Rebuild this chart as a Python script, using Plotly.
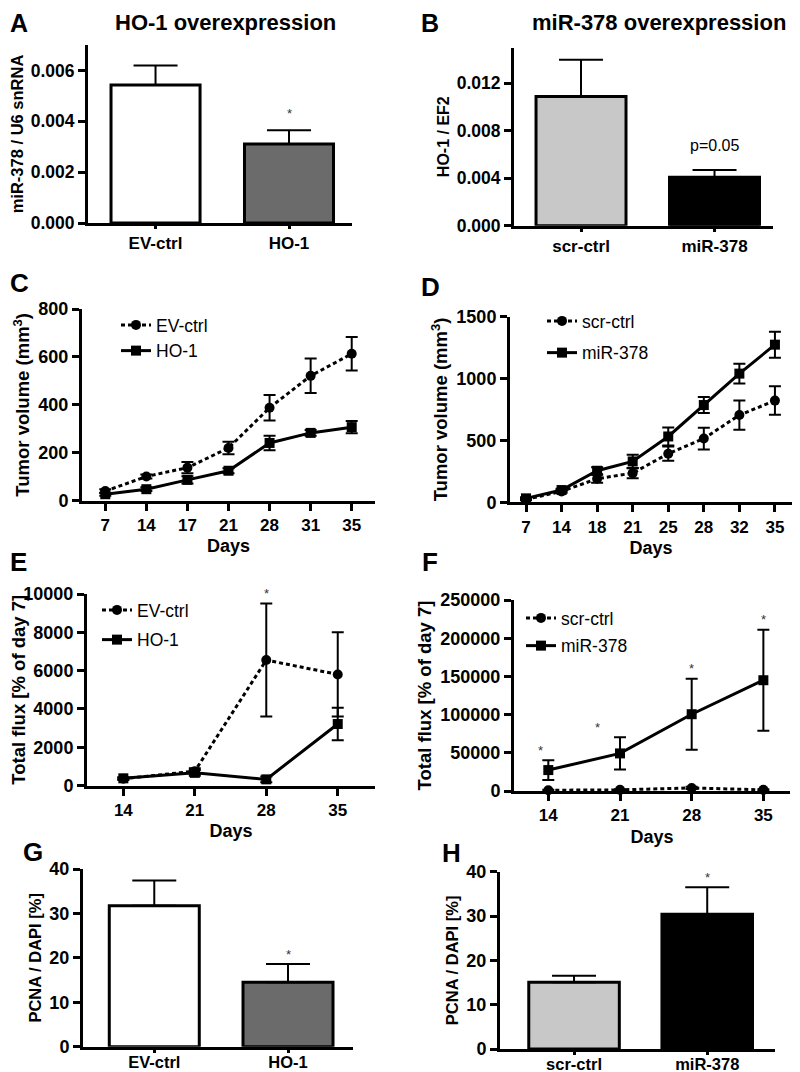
import plotly.graph_objects as go

# page is 800x1072; the browser body has an 8px margin, the figure starts at (8, 8)
# and is made 8px larger than the remaining space so it reaches the window edges.
PAGE_W, PAGE_H = 800, 1072
OFF = 8
W, H = PAGE_W - OFF, PAGE_H - OFF
FONT = "Liberation Sans, Arial, Helvetica, sans-serif"

# ---------------- data ----------------
# Panel A: HO-1 overexpression, miR-378 / U6 snRNA
a_groups = ["EV-ctrl", "HO-1"]
a_means = [0.00543, 0.00311]
a_sem = [0.00076, 0.00054]
a_stars = ["", "*"]

# Panel B: miR-378 overexpression, HO-1 / EF2
b_groups = ["scr-ctrl", "miR-378"]
b_means = [0.01089, 0.00408]
b_sem = [0.00309, 0.00062]
b_note = ["", "p=0.05"]

# Panel C: tumor volume, HO-1 overexpression
c_days = ["7", "14", "17", "21", "28", "31", "35"]
c_ev = [40, 101, 138, 220, 388, 521, 613]
c_ev_sem = [8, 8, 23, 26, 53, 72, 70]
c_ho = [27, 48, 87, 125, 241, 283, 307]
c_ho_sem = [6, 8, 15, 10, 30, 12, 26]
c_stars = ["*", "***", "**", "**", "*", "**", "***"]

# Panel D: tumor volume, miR-378 overexpression
d_days = ["7", "14", "18", "21", "25", "28", "32", "35"]
d_scr = [24, 88, 190, 236, 393, 515, 705, 822]
d_scr_sem = [8, 10, 32, 42, 58, 88, 118, 115]
d_mir = [32, 99, 255, 330, 532, 786, 1040, 1274]
d_mir_sem = [8, 10, 28, 55, 72, 65, 80, 105]
d_stars = ["", "", "", "", "", "*", "*", "*"]

# Panel E: total flux, HO-1 overexpression
e_days = [14, 21, 28, 35]
e_ev = [350, 750, 6550, 5800]
e_ev_sem = [60, 150, 2950, 2200]
e_ho = [375, 660, 320, 3210]
e_ho_sem = [50, 150, 150, 850]
e_stars = ["", "", "*", ""]

# Panel F: total flux, miR-378 overexpression
f_days = [14, 21, 28, 35]
f_scr = [1000, 1500, 4000, 1500]
f_scr_sem = [500, 800, 1500, 800]
f_mir = [27400, 49200, 100500, 145000]
f_mir_sem = [13000, 21000, 46500, 66000]
f_stars = ["*", "*", "*", "*"]

# Panel G: PCNA / DAPI, HO-1 overexpression
g_groups = ["EV-ctrl", "HO-1"]
g_means = [31.7, 14.5]
g_sem = [5.7, 4.1]
g_stars = ["", "*"]

# Panel H: PCNA / DAPI, miR-378 overexpression
h_groups = ["scr-ctrl", "miR-378"]
h_means = [15.05, 30.4]
h_sem = [1.45, 6.1]
h_stars = ["", "*"]

# ---------------- helpers (page pixel -> paper fraction) ----------------
def px(xp):
    return (xp - OFF) / W


def py(yp):
    return 1 - (yp - OFF) / H


def dx(a, b):
    return [px(a), px(b)]


def dy(top, bottom):
    return [py(bottom), py(top)]


def bold(size):
    return dict(family=FONT, size=size, color="black", weight="bold")


def axis_common():
    return dict(showgrid=False, zeroline=False, showline=True, linecolor="black",
                linewidth=3, ticks="outside", ticklen=7, tickwidth=2.5,
                tickcolor="black", mirror=False, fixedrange=True, automargin=False)


fig = go.Figure()

WHITE, DGRAY, LGRAY, BLACK = "#ffffff", "#6b6b6b", "#c8c8c8", "#000000"


def add_bars(groups, means, sem, colors, width, xa, ya):
    fig.add_trace(go.Bar(
        x=groups, y=means, width=width,
        marker=dict(color=colors, line=dict(color="black", width=3)),
        error_y=dict(type="data", array=sem, arrayminus=[0] * len(sem), symmetric=False,
                     color="black", thickness=2, width=22),
        xaxis=xa, yaxis=ya, showlegend=False, hoverinfo="skip"))


def add_line(xs, ys, sem, name, dotted, symbol, xa, ya, legend):
    fig.add_trace(go.Scatter(
        x=xs, y=ys, name=name, mode="lines+markers", legendgroup=legend + name,
        line=dict(color="black", width=3, dash="4px,3px" if dotted else "solid"),
        marker=dict(symbol=symbol, size=10, color="black"),
        error_y=dict(type="data", array=sem, color="black", thickness=2, width=6),
        xaxis=xa, yaxis=ya, legend=legend, cliponaxis=False))


def add_stars(xs, ys, sem, stars, xa, ya, shift=10, xshifts=None):
    for i, (x, y, s, t) in enumerate(zip(xs, ys, sem, stars)):
        if not t:
            continue
        fig.add_annotation(x=x, y=y + s, xref=xa, yref=ya, text=t, showarrow=False,
                           yanchor="middle", yshift=shift,
                           xshift=(xshifts[i] if xshifts else 0),
                           font=dict(family=FONT, size=13, color="#333333"))


# A
add_bars(a_groups, a_means, a_sem, [WHITE, DGRAY], 0.667, "x", "y")
add_stars(a_groups, a_means, a_sem, a_stars, "x", "y", shift=17)
# B
add_bars(b_groups, b_means, b_sem, [LGRAY, BLACK], 0.674, "x2", "y2")
for g, m, s, t in zip(b_groups, b_means, b_sem, b_note):
    if t:
        fig.add_annotation(x=g, y=m + s, xref="x2", yref="y2", text=t, showarrow=False,
                           yanchor="middle", yshift=24,
                           font=dict(family=FONT, size=16, color="black"))
# C
add_line(c_days, c_ev, c_ev_sem, "EV-ctrl", True, "circle", "x3", "y3", "legend")
add_line(c_days, c_ho, c_ho_sem, "HO-1", False, "square", "x3", "y3", "legend")
add_stars(c_days, c_ev, c_ev_sem, c_stars, "x3", "y3")
# D
add_line(d_days, d_scr, d_scr_sem, "scr-ctrl", True, "circle", "x4", "y4", "legend2")
add_line(d_days, d_mir, d_mir_sem, "miR-378", False, "square", "x4", "y4", "legend2")
add_stars(d_days, d_mir, d_mir_sem, d_stars, "x4", "y4")
# E
add_line(e_days, e_ev, e_ev_sem, "EV-ctrl", True, "circle", "x5", "y5", "legend3")
add_line(e_days, e_ho, e_ho_sem, "HO-1", False, "square", "x5", "y5", "legend3")
add_stars(e_days, e_ev, e_ev_sem, e_stars, "x5", "y5")
# F
add_line(f_days, f_scr, f_scr_sem, "scr-ctrl", True, "circle", "x6", "y6", "legend4")
add_line(f_days, f_mir, f_mir_sem, "miR-378", False, "square", "x6", "y6", "legend4")
add_stars(f_days, f_mir, f_mir_sem, f_stars, "x6", "y6", xshifts=[-8, -23, 0, 0])
# G
add_bars(g_groups, g_means, g_sem, [WHITE, DGRAY], 0.673, "x7", "y7")
add_stars(g_groups, g_means, g_sem, g_stars, "x7", "y7")
# H
add_bars(h_groups, h_means, h_sem, [LGRAY, BLACK], 0.68, "x8", "y8")
add_stars(h_groups, h_means, h_sem, h_stars, "x8", "y8")

# ---------------- axes ----------------
def xax(dom, rng, tickfont, title=None, ticklen=7, **kw):
    d = axis_common()
    d.update(domain=dom, range=rng, tickfont=tickfont, ticklen=ticklen, **kw)
    if title:
        d["title"] = dict(text=title, font=bold(18), standoff=6)
    return d


def yax(dom, rng, dtick, fmt, title, tsize, ticksize, anchor):
    d = axis_common()
    d.update(domain=dom, range=rng, dtick=dtick, tick0=0, tickformat=fmt,
             tickfont=bold(ticksize), anchor=anchor,
             title=dict(text=title, font=bold(tsize), standoff=4))
    return d


layout = dict(
    width=W, height=H, margin=dict(l=0, r=0, t=0, b=0, pad=0, autoexpand=False),
    paper_bgcolor="white", plot_bgcolor="white",
    font=dict(family=FONT, color="black"),
    bargap=0.33,
)
layout["xaxis"] = xax(dx(88, 352), [-0.506, 1.472], bold(17), ticklen=3, anchor="y", type="category")
layout["yaxis"] = yax(dy(45, 223), [0, 0.007], 0.002, ".3f", "miR-378 / U6 snRNA", 16.5, 17.5, "x")
layout["xaxis2"] = xax(dx(514, 773), [-0.502, 1.438], bold(17), ticklen=3, anchor="y2", type="category")
layout["yaxis2"] = yax(dy(47.7, 225.7), [0, 0.015], 0.004, ".3f", "HO-1 / EF2", 16, 17.5, "x2")
layout["xaxis3"] = xax(dx(82, 375), [-0.567, 6.567], bold(17), "Days", anchor="y3", type="category")
layout["yaxis3"] = yax(dy(309, 500.7), [0, 800], 200, "d", "Tumor volume (mm<sup>3</sup>)", 18.5, 18, "x3")
layout["xaxis4"] = xax(dx(510, 792), [-0.45, 7.48], bold(17), "Days", anchor="y4", type="category")
layout["yaxis4"] = yax(dy(316.7, 502.3), [0, 1500], 500, "d", "Tumor volume (mm<sup>3</sup>)", 18.5, 18, "x4")
layout["xaxis5"] = xax(dx(87, 375), [10.44, 38.65], bold(17), "Days", anchor="y5",
                       tickvals=e_days, ticktext=[str(v) for v in e_days])
layout["yaxis5"] = yax(dy(594, 785.5), [0, 10000], 2000, "d", "Total flux [% of day 7]", 18.5, 18, "x5")
layout["xaxis6"] = xax(dx(514, 790), [10.65, 37.6], bold(17), "Days", anchor="y6",
                       tickvals=f_days, ticktext=[str(v) for v in f_days])
layout["yaxis6"] = yax(dy(600, 791), [0, 250000], 50000, "d", "Total flux [% of day 7]", 18.5, 18, "x6")
layout["xaxis7"] = xax(dx(83, 353), [-0.533, 1.486], bold(16.5), ticklen=3, anchor="y7",
                       type="category", ticklabelstandoff=-5)
layout["yaxis7"] = yax(dy(869, 1046.7), [0, 40], 10, "d", "PCNA / DAPI [%]", 16.5, 18, "x7")
layout["xaxis8"] = xax(dx(500, 775), [-0.556, 1.509], bold(16.5), ticklen=3, anchor="y8",
                       type="category", ticklabelstandoff=-5)
layout["yaxis8"] = yax(dy(871.7, 1049), [0, 40], 10, "d", "PCNA / DAPI [%]", 16.5, 18, "x8")


def leg(xpage, ypage, gap):
    return dict(x=px(xpage), y=py(ypage), xanchor="left", yanchor="top",
                bgcolor="rgba(0,0,0,0)", borderwidth=0,
                font=dict(family=FONT, size=17.5, color="black"),
                itemwidth=30, tracegroupgap=gap)


layout["legend"] = leg(116, 307, 0)
layout["legend2"] = leg(542, 303, 6)
layout["legend3"] = leg(97, 592, 4)
layout["legend4"] = leg(521, 600, 2)

fig.update_layout(**layout)

# panel letters and titles (page pixel positions)
letters = [("A", 8, 23, 25), ("B", 419, 23, 25), ("C", 8, 283, 26), ("D", 419, 287, 26),
           ("E", 8, 562, 26), ("F", 420, 562, 26), ("G", 21, 852, 26), ("H", 440, 853, 26)]
for t, xp, yp, fs in letters:
    fig.add_annotation(x=px(xp), y=py(yp), xref="paper", yref="paper", text=t,
                       showarrow=False, xanchor="left", yanchor="middle", font=bold(fs))
for t, xp, yp in [("HO-1 overexpression", 225, 22), ("miR-378 overexpression", 659, 22)]:
    fig.add_annotation(x=px(xp), y=py(yp), xref="paper", yref="paper", text=t,
                       showarrow=False, xanchor="center", yanchor="middle", font=bold(22))

fig.write_html("out.html")
